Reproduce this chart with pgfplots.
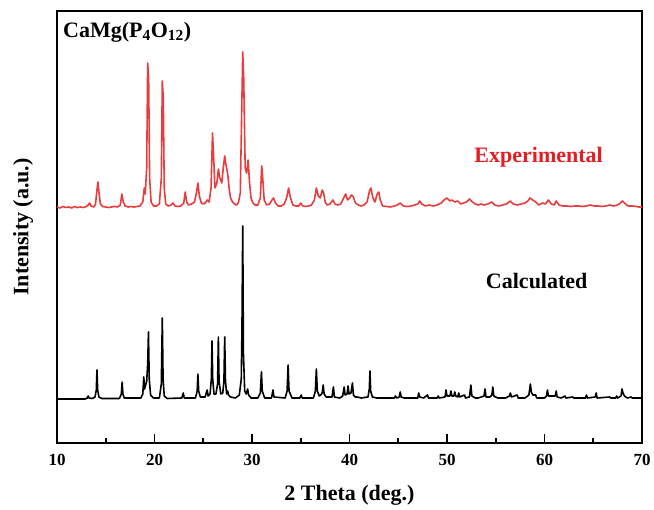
\documentclass[border=0pt]{standalone}
\usepackage{fontspec}
\setmainfont{Liberation Serif}
\usepackage{pgfplots}
\usepackage{pgfplotstable}
\pgfplotsset{compat=1.18}
\definecolor{expline}{RGB}{233,60,62}
\definecolor{exptext}{RGB}{226,30,36}

\pgfplotstableread{
x h
10.0 1
10.3 0
10.6 1.5
10.9 0.5
11.2 1
11.5 0
11.8 1.5
12.1 0.5
12.4 1
12.7 0.5
13.0 1.5
13.2 3
13.35 5
13.5 2
13.8 1
13.95 4
14.1 18
14.2 26
14.3 16
14.45 4
14.7 1.5
15.0 1
15.3 0.5
15.6 1
15.9 1.5
16.2 1
16.5 3
16.65 14
16.8 6
17.0 2
17.3 1
17.6 1.5
17.9 1
18.2 1.5
18.5 2
18.8 6
18.95 20
19.05 14
19.2 40
19.3 145
19.4 130
19.5 30
19.65 6
19.9 2
20.2 2
20.5 4
20.7 30
20.8 127
20.9 110
21.0 20
21.15 4
21.4 2
21.7 3
21.9 5
22.1 2
22.4 1.5
22.7 2
23.0 5
23.15 16
23.3 6
23.5 3
23.8 4
24.1 6
24.3 15
24.45 25
24.6 12
24.8 5
25.0 4
25.2 5
25.4 8
25.6 6
25.8 20
25.95 75
26.05 55
26.2 20
26.4 25
26.55 39
26.7 30
26.9 25
27.05 40
27.2 52
27.35 42
27.5 35
27.65 20
27.8 10
28.0 6
28.2 4
28.4 3
28.6 5
28.8 15
28.95 100
29.05 156
29.15 130
29.3 40
29.45 35
29.6 48
29.75 25
29.9 10
30.1 5
30.3 3
30.6 3
30.85 10
31.0 42
31.1 30
31.25 8
31.5 3
31.8 4
32.05 8
32.2 10
32.4 5
32.7 2
33.0 2
33.3 4
33.55 10
33.75 20
33.95 10
34.2 3
34.5 2
34.8 2
35.0 5
35.2 2
35.5 1.5
35.8 2
36.1 3
36.4 8
36.6 20
36.8 12
37.0 10
37.2 18
37.35 15
37.5 6
37.7 3
38.0 4
38.3 8
38.5 4
38.8 3
39.1 4
39.4 10
39.6 14
39.8 8
40.0 10
40.2 13
40.4 11
40.6 5
40.9 3
41.2 2
41.5 3
41.8 6
42.05 17
42.2 20
42.4 10
42.6 6
42.85 14
43.0 16
43.15 8
43.4 2
43.8 1.5
44.2 1
44.6 2
44.9 3
45.2 5
45.5 2
45.9 1.5
46.3 2
46.7 3
47.0 4
47.2 7
47.4 4
47.8 2
48.2 3
48.6 2
49.0 3
49.4 5
49.7 8
50.0 10
50.3 7
50.5 8
50.8 6
51.1 7
51.4 4
51.7 5
52.0 6
52.3 9
52.6 6
52.9 4
53.2 3
53.5 4
53.8 3
54.2 4
54.6 6
54.9 3
55.3 2
55.7 3
56.1 4
56.5 7
56.8 4
57.2 3
57.6 4
58.0 5
58.3 7
58.5 10
58.8 8
59.1 6
59.4 3
59.8 5
60.1 4
60.4 8
60.7 4
61.0 3
61.2 7
61.5 3
61.9 2
62.3 2
62.7 1.5
63.1 2
63.5 2
63.9 1.5
64.3 2
64.7 3
65.1 2
65.5 2
65.9 1.5
66.3 2
66.7 3
67.1 2
67.5 3
67.8 5
68.0 7
68.3 4
68.6 2
69.0 2
69.4 1.5
69.7 1
70.0 1
}\expdata

\pgfplotstableread{
x h
10.0 0
12.9 0
13.1 1
13.2 3
13.3 1
13.6 0.5
13.9 2
14.03 9
14.1 29
14.17 9
14.3 2
14.6 0.5
16.4 0.5
16.6 5
16.68 17
16.76 5
16.9 1
18.6 1
18.8 5
18.9 22
18.98 10
19.2 18
19.3 35
19.38 67
19.46 20
19.6 4
19.9 1
20.5 1
20.7 15
20.8 81
20.88 20
21.0 3
21.3 0.5
22.8 1
22.95 6
23.05 1
24.2 1
24.38 8
24.45 25
24.53 8
24.7 2
25.2 2
25.4 9
25.5 3
25.7 5
25.83 20
25.9 58
25.97 20
26.1 5
26.3 5
26.47 15
26.55 62
26.62 18
26.8 5
27.0 6
27.12 18
27.2 62
27.28 18
27.4 5
27.5 8
27.6 4
27.8 2
28.3 1
28.7 4
28.9 20
28.97 70
29.05 173
29.12 46
29.25 8
29.4 5
29.55 10
29.65 4
29.9 1
30.6 1
30.85 6
30.97 27
31.05 8
31.3 1
32.0 1
32.15 9
32.25 2
33.4 1
33.6 8
33.7 34
33.8 8
34.1 1
34.9 1
35.05 4
35.15 1
36.3 1
36.5 8
36.6 30
36.7 8
36.9 3
37.05 4
37.2 6
37.3 14
37.4 5
37.6 2
38.2 2
38.35 12
38.45 2
39.0 1
39.3 3
39.45 12
39.55 4
39.75 5
39.85 13
39.95 5
40.15 6
40.3 16
40.4 4
40.6 2
40.8 2
41.2 1
41.9 2
42.03 10
42.1 28
42.17 8
42.35 2
42.8 1
43.5 1
44.6 1
44.7 3
44.85 1
45.1 2
45.2 7
45.3 2
45.6 1
47.0 1
47.1 6
47.2 2
47.6 1
48.0 4
48.1 1
49.0 1
49.1 3
49.2 1
49.8 2
49.9 9
50.0 3
50.3 3
50.4 8
50.5 3
50.7 3
50.8 7
50.9 3
51.1 2
51.2 6
51.3 2
51.8 4
51.9 1
52.3 2
52.45 14
52.55 3
52.9 1
53.2 1
53.8 3
53.9 10
54.0 2
54.4 2
54.6 4
54.7 12
54.8 3
55.2 1
56.0 1
56.4 3
56.5 6
56.6 2
57.2 4
57.3 1
58.0 1
58.4 4
58.55 15
58.65 7
58.8 4
59.1 4
59.2 1
60.0 1
60.2 3
60.3 9
60.4 3
61.1 3
61.2 8
61.3 2
61.7 1
62.1 3
62.2 1
62.9 2
63.0 1
64.2 1
64.3 4
64.4 1
65.2 2
65.3 6
65.4 1
66.7 2
66.8 1
67.3 1
67.4 3
67.5 1
67.85 3
67.95 10
68.05 6
68.2 3
68.5 1
68.9 2
69.0 1
70.0 1
}\caldata

\begin{document}
\begin{tikzpicture}
\begin{axis}[
  name=ax,
  scale only axis,
  width=585pt, height=432pt,
  xmin=10, xmax=70, ymin=0, ymax=432,
  axis line style={line width=1.8pt},
  xtick={10,20,...,70},
  minor x tick num=1,
  ytick=\empty,
  xtick pos=bottom,
  tick align=inside,
  major tick length=9pt,
  minor tick length=5pt,
  every tick/.style={line width=1.8pt, black},
  /pgf/number format/assume math mode=true,
  xticklabel style={font=\fontsize{17}{20}\selectfont\bfseries, yshift=-8pt},
  xlabel={2 Theta (deg.)},
  ylabel={Intensity (a.u.)},
  label style={font=\fontsize{22}{26}\selectfont\bfseries},
  xlabel style={at={(axis description cs:0.5,-0.122)}, anchor=center},
  ylabel style={at={(axis description cs:-0.058,0.5)}, anchor=center},
  clip=true,
]
\addplot[expline, line width=1.6pt, line join=round] table[x=x, y expr=\thisrow{h}+235] {\expdata};
\addplot[black, line width=1.6pt, line join=round] table[x=x, y expr=\thisrow{h}+44] {\caldata};
\node[anchor=west, font=\fontsize{22}{26}\selectfont\bfseries, inner sep=0pt] at (axis cs:10.62,411) {CaMg(P\textsubscript{4}O\textsubscript{12})};
\node[font=\fontsize{22}{26}\selectfont\bfseries, text=exptext] at (axis cs:59.4,286) {Experimental};
\node[font=\fontsize{22}{26}\selectfont\bfseries] at (axis cs:59.2,162) {Calculated};
\end{axis}
\path (ax.south west) ++(-57pt,-65pt);
\path (ax.north east) ++(12pt,11pt);
\end{tikzpicture}
\end{document}
